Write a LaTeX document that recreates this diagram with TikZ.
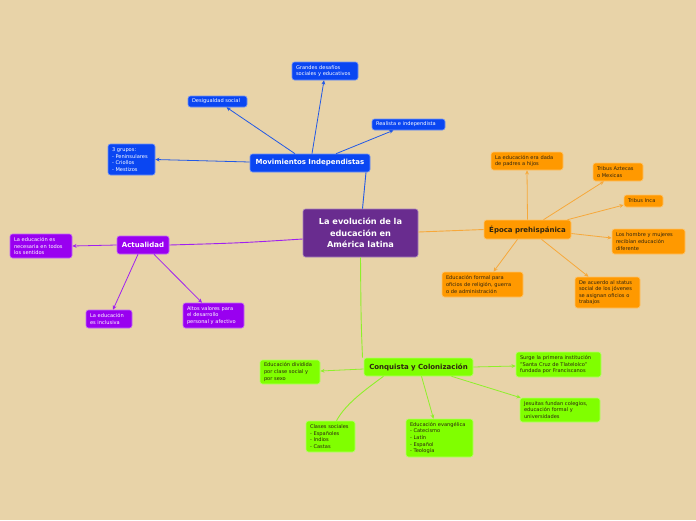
\documentclass[tikz,border=0pt]{standalone}
\usepackage{fontspec}
\setmainfont{DejaVu Sans}
\usetikzlibrary{arrows.meta}
\definecolor{bgc}{HTML}{E8D3A8}
\definecolor{cpur}{HTML}{692C8F}
\definecolor{cblue}{HTML}{0A46F2}
\definecolor{cmag}{HTML}{9900F0}
\definecolor{corg}{HTML}{FF9900}
\definecolor{cgrn}{HTML}{80FF00}
\definecolor{lblue}{HTML}{2259E6}
\definecolor{lmag}{HTML}{A020F0}
\definecolor{lorg}{HTML}{F7A83A}
\definecolor{lgrn}{HTML}{8EF02A}
\definecolor{dtext}{HTML}{2E2410}
\newcommand\mmnode[7]{%
  \pgfmathsetmacro\mmw{#5-#3}%
  \pgfmathsetmacro\mmh{#6-#4}%
  \pgfmathsetmacro\mmtw{#5-#3-8}%
  \pgfmathsetmacro\mmcx{(#3+#5)/2}%
  \pgfmathsetmacro\mmcy{(#4+#6)/2}%
  \node[#1, minimum width=\mmw pt, minimum height=\mmh pt, text width=\mmtw pt] (#2) at (\mmcx,\mmcy) {#7};}
\tikzset{
  mmbox/.style={rectangle, rounded corners=2.5pt, inner xsep=4pt, inner ysep=0pt, align=left,
    line width=0.6pt, font=\fontsize{5.1}{6.6}\selectfont},
  ttl/.style={align=center, font=\bfseries\fontsize{7}{8}\selectfont},
  bluebox/.style={mmbox, fill=cblue, draw=cblue!60!white, text=white},
  magbox/.style={mmbox, fill=cmag, draw=cmag!60!white, text=white},
  orgbox/.style={mmbox, fill=corg, draw=corg!60!white, text=dtext},
  grnbox/.style={mmbox, fill=cgrn, draw=cgrn!60!white, text=dtext},
  cenbox/.style={mmbox, fill=cpur, draw=cpur!60!white, text=white, align=center,
    font=\bfseries\fontsize{8.2}{11.5}\selectfont},
  arr/.style={-{Stealth[length=4.2pt,width=3.8pt]}, line width=0.8pt},
  lnk/.style={line width=0.9pt},
}
\begin{document}
\begin{tikzpicture}[x=1pt,y=-1pt]
\fill[bgc] (0,0) rectangle (696,520);
\useasboundingbox (0,0) rectangle (696,520);

% central
\mmnode{cenbox}{cen}{303}{209}{418}{257}{La evolución de la\\educación en\\América latina}

% blue branch
\mmnode{bluebox,ttl}{mov}{250}{154}{370}{172}{Movimientos Independistas}
\mmnode{bluebox}{grandes}{292}{62}{358}{80}{Grandes desafíos\\sociales y educativos}
\mmnode{bluebox}{desig}{188}{96}{247}{107}{Desigualdad social}
\mmnode{bluebox}{realista}{372}{119}{445}{130}{Realista e independista}
\mmnode{bluebox}{grupos}{108}{144}{155}{175}{3 grupos:\\- Peninsulares\\- Criollos\\- Mestizos}

% magenta branch
\mmnode{magbox,ttl}{act}{117}{236}{169}{254}{Actualidad}
\mmnode{magbox}{nec}{10}{234}{72}{258}{La educación es\\necesaria en todos\\los sentidos}
\mmnode{magbox}{incl}{86}{310}{132}{328}{La educación\\es inclusiva}
\mmnode{magbox}{altos}{183}{303}{244}{328}{Altos valores para\\el desarrollo\\personal y afectivo}

% orange branch
\mmnode{orgbox,ttl}{epoca}{484}{220}{571}{239}{Época prehispánica}
\mmnode{orgbox}{padres}{491}{152}{563}{170}{La educación era dada\\de padres a hijos}
\mmnode{orgbox}{aztecas}{593}{163}{643}{181}{Tribus Aztecas\\o Mexicas}
\mmnode{orgbox}{inca}{624}{195}{663}{207}{Tribus Inca}
\mmnode{orgbox}{hombre}{612}{229}{685}{254}{Los hombre y mujeres\\recibían educación\\diferente}
\mmnode{orgbox}{status}{575}{277}{640}{308}{De acuerdo al status\\social de los jóvenes\\se asignan oficios o\\trabajos}
\mmnode{orgbox}{formal}{442}{272}{523}{297}{Educación formal para\\oficios de religión, guerra\\o de administración}

% green branch
\mmnode{grnbox,ttl}{conq}{364}{358}{473}{376}{Conquista y Colonización}
\mmnode{grnbox}{dividida}{260}{360}{320}{384}{Educación dividida\\por clase social y\\por sexo}
\mmnode{grnbox}{surge}{516}{352}{601}{377}{Surge la primera institución\\"Santa Cruz de Tlatelolco"\\fundada por Franciscanos}
\mmnode{grnbox}{jesuitas}{520}{398}{600}{422}{Jesuitas fundan colegios,\\educación formal y\\universidades}
\mmnode{grnbox}{clases}{306}{421}{355}{452}{Clases sociales\\- Españoles\\- Indios\\- Castas}
\mmnode{grnbox}{evang}{406}{419}{473}{457}{Educación evangélica\\- Catecismo\\- Latín\\- Español\\- Teología}

% central links
\draw[lnk, lblue] ([xshift=2pt]cen.north) -- ([xshift=56pt]mov.south);
\draw[lnk, lmag] ([yshift=-6pt]cen.west) .. controls (240,243) .. (act.east);
\draw[lnk, lorg] ([yshift=1pt]cen.east) -- (epoca.west);
\draw[lnk, lgrn] (cen.south) .. controls (361,320) .. ([xshift=-56pt]conq.north);

% blue links
\draw[arr, lblue] ([xshift=-15pt]mov.north) -- ([xshift=9pt]desig.south);
\draw[arr, lblue] ([xshift=2pt]mov.north) -- ([xshift=-1pt]grandes.south);
\draw[arr, lblue] ([xshift=26pt]mov.north) -- ([xshift=-15pt]realista.south);
\draw[arr, lblue] ([yshift=1pt]mov.west) -- (grupos.east);

% magenta links
\draw[arr, lmag] (act.west) -- (nec.east);
\draw[arr, lmag] ([xshift=-5pt]act.south) -- ([xshift=4pt]incl.north);
\draw[arr, lmag] ([xshift=11pt]act.south) -- ([xshift=-11.5pt]altos.north);

% orange links
\draw[arr, lorg] (epoca.north) -- (padres.south);
\draw[arr, lorg] ([xshift=16pt]epoca.north) -- ([xshift=-14pt]aztecas.south);
\draw[arr, lorg] ([xshift=40pt]epoca.north) -- ([yshift=-4pt]inca.west);
\draw[arr, lorg] ([yshift=-4pt]epoca.east) -- ([yshift=3.5pt]hombre.west);
\draw[arr, lorg] ([xshift=14pt]epoca.south) -- ([xshift=-19pt]status.north);
\draw[arr, lorg] ([xshift=-10pt]epoca.south) -- ([xshift=11pt]formal.north);

% green links
\draw[arr, lgrn] ([yshift=-2pt]conq.west) -- ([yshift=1pt]dividida.east);
\draw[arr, lgrn] (conq.east) -- ([yshift=-1.5pt]surge.west);
\draw[arr, lgrn] ([xshift=33pt]conq.south) -- ([xshift=1pt]jesuitas.north west);
\draw[arr, lgrn] ([xshift=3pt]conq.south) -- ([xshift=-6pt]evang.north);
\draw[lnk, lgrn] ([xshift=-35pt]conq.south) .. controls (362,392) and (345,405) .. ([xshift=6pt]clases.north);
\end{tikzpicture}
\end{document}
